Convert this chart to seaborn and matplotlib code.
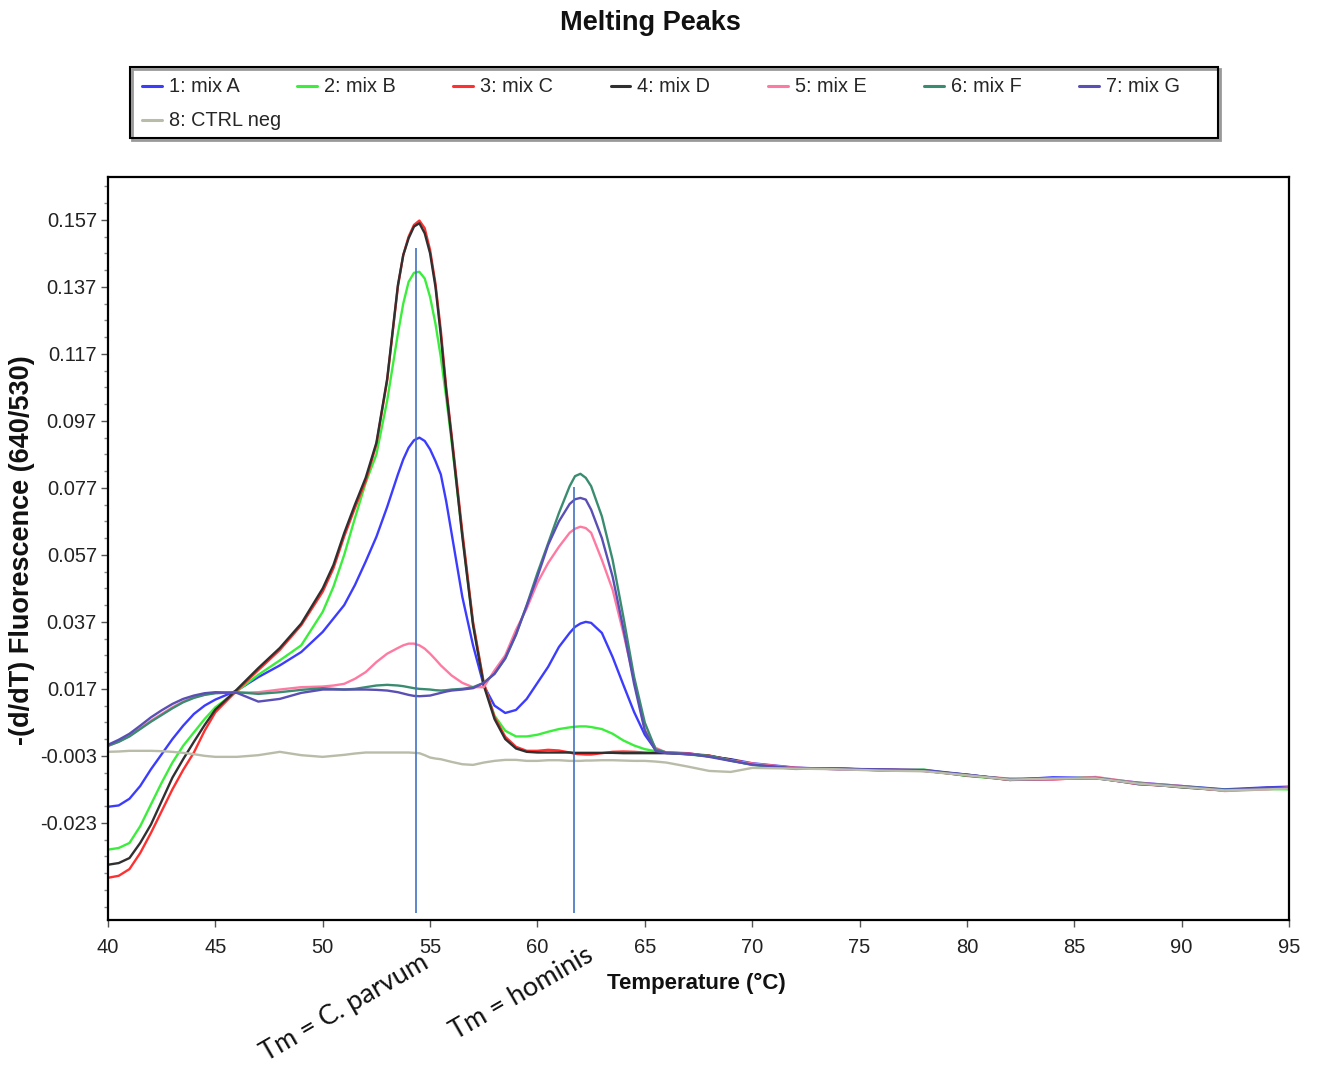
import numpy as np
import pandas as pd
import matplotlib
matplotlib.use("Agg")
import matplotlib.pyplot as plt
import seaborn as sns
from matplotlib.patches import Rectangle
from matplotlib.ticker import FixedLocator

# ---------------- data ----------------
temperature = [40, 40.5, 41, 41.5, 42, 42.5, 43, 43.5, 44, 44.5, 45, 46, 47, 48, 49, 50,
               50.5, 51, 51.5, 52, 52.5, 53, 53.5,
               53.75, 54, 54.25, 54.5, 54.75, 55, 55.25, 55.5, 55.75,
               56, 56.5, 57, 57.5, 58, 58.5, 59, 59.5, 60, 60.5, 61, 61.5,
               61.75, 62, 62.25, 62.5,
               63, 63.5, 64, 64.5, 65, 65.5, 66,
               67, 68, 69, 70, 72, 74, 76, 78, 80, 82, 84, 86, 88, 90, 92, 94, 95]

mix_a = [-0.0182, -0.0178, -0.0158, -0.0120, -0.0070, -0.0025, 0.0020, 0.0060, 0.0095, 0.0120, 0.0138,
         0.0165, 0.0205, 0.0240, 0.0280, 0.0340,
         0.0380, 0.0420, 0.0480, 0.0550, 0.0624, 0.0713, 0.0810,
         0.0855, 0.0890, 0.0912, 0.0920, 0.0910, 0.0885, 0.0850, 0.0810, 0.0730,
         0.0635, 0.0445, 0.0300, 0.0180, 0.0120, 0.0098, 0.0107, 0.0140, 0.0188, 0.0236, 0.0295, 0.0337,
         0.0355, 0.0365, 0.0370, 0.0367,
         0.0337, 0.0265, 0.0182, 0.0101, 0.0033, -0.0012, -0.0020,
         -0.0022, -0.0032, -0.0040, -0.0052, -0.0065, -0.0070, -0.0071, -0.0075, -0.0086, -0.0102, -0.0094, -0.0096, -0.0110, -0.0120, -0.0130, -0.0124, -0.0122]

mix_b = [-0.0310, -0.0305, -0.0290, -0.0240, -0.0175, -0.0110, -0.0050, 0.0000, 0.0040, 0.0080, 0.0115,
         0.0163, 0.0212, 0.0255, 0.0300, 0.0400,
         0.0475, 0.0570, 0.0680, 0.0785, 0.0870, 0.1030, 0.1230,
         0.1320, 0.1385, 0.1412, 0.1415, 0.1395, 0.1340, 0.1260, 0.1160, 0.1040,
         0.0910, 0.0630, 0.0365, 0.0185, 0.0090, 0.0045, 0.0028, 0.0028, 0.0033, 0.0042, 0.0050, 0.0055,
         0.0057, 0.0058, 0.0058, 0.0056,
         0.0050, 0.0036, 0.0016, 0.0001, -0.0010, -0.0016, -0.0020,
         -0.0026, -0.0031, -0.0044, -0.0056, -0.0068, -0.0067, -0.0074, -0.0071, -0.0090, -0.0101, -0.0099, -0.0094, -0.0113, -0.0123, -0.0133, -0.0129, -0.0130]

mix_c = [-0.0394, -0.0388, -0.0368, -0.0320, -0.0260, -0.0195, -0.0130, -0.0072, -0.0020, 0.0045, 0.0100,
         0.0165, 0.0226, 0.0286, 0.0360, 0.0460,
         0.0530, 0.0625, 0.0710, 0.0790, 0.0900, 0.1090, 0.1370,
         0.1465, 0.1520, 0.1555, 0.1568, 0.1545, 0.1480, 0.1380, 0.1240, 0.1070,
         0.0930, 0.0640, 0.0370, 0.0188, 0.0086, 0.0027, -0.0003, -0.0015, -0.0015, -0.0012, -0.0014, -0.0020,
         -0.0024, -0.0025, -0.0026, -0.0026,
         -0.0022, -0.0018, -0.0017, -0.0018, -0.0020, -0.0021, -0.0020,
         -0.0023, -0.0029, -0.0043, -0.0054, -0.0066, -0.0069, -0.0071, -0.0075, -0.0087, -0.0102, -0.0100, -0.0095, -0.0115, -0.0121, -0.0134, -0.0127, -0.0126]

mix_d = [-0.0355, -0.0350, -0.0335, -0.0290, -0.0235, -0.0165, -0.0095, -0.0040, 0.0012, 0.0062, 0.0108,
         0.0168, 0.0232, 0.0292, 0.0365, 0.0470,
         0.0540, 0.0635, 0.0720, 0.0800, 0.0905, 0.1095, 0.1375,
         0.1465, 0.1515, 0.1550, 0.1560, 0.1530, 0.1470, 0.1370, 0.1225, 0.1060,
         0.0920, 0.0625, 0.0360, 0.0180, 0.0080, 0.0020, -0.0008, -0.0018, -0.0020, -0.0020, -0.0020, -0.0020,
         -0.0021, -0.0021, -0.0021, -0.0021,
         -0.0021, -0.0021, -0.0022, -0.0022, -0.0022, -0.0022, -0.0022,
         -0.0025, -0.0030, -0.0041, -0.0055, -0.0067, -0.0068, -0.0073, -0.0074, -0.0089, -0.0099, -0.0098, -0.0097, -0.0112, -0.0124, -0.0133, -0.0126, -0.0127]

mix_e = [0.0000, 0.0012, 0.0030, 0.0052, 0.0075, 0.0095, 0.0115, 0.0132, 0.0145, 0.0153, 0.0158,
         0.0158, 0.0160, 0.0168, 0.0175, 0.0177,
         0.0180, 0.0185, 0.0200, 0.0220, 0.0250, 0.0275, 0.0292,
         0.0300, 0.0305, 0.0305, 0.0300, 0.0290, 0.0275, 0.0258, 0.0240, 0.0225,
         0.0210, 0.0188, 0.0175, 0.0175, 0.0225, 0.0270, 0.0346, 0.0410, 0.0487, 0.0546, 0.0594, 0.0636,
         0.0648, 0.0654, 0.0650, 0.0636,
         0.0555, 0.0466, 0.0337, 0.0197, 0.0048, -0.0006, -0.0020,
         -0.0024, -0.0031, -0.0043, -0.0053, -0.0066, -0.0070, -0.0070, -0.0073, -0.0088, -0.0098, -0.0101, -0.0093, -0.0111, -0.0120, -0.0135, -0.0130, -0.0124]

mix_f = [0.0000, 0.0012, 0.0028, 0.0050, 0.0072, 0.0092, 0.0112, 0.0130, 0.0143, 0.0152, 0.0157,
         0.0160, 0.0155, 0.0160, 0.0167, 0.0172,
         0.0170, 0.0168, 0.0170, 0.0175, 0.0180, 0.0182, 0.0180,
         0.0178, 0.0175, 0.0172, 0.0170, 0.0169, 0.0168, 0.0166, 0.0165, 0.0166,
         0.0168, 0.0170, 0.0175, 0.0188, 0.0215, 0.0260, 0.0331, 0.0420, 0.0516, 0.0605, 0.0695, 0.0775,
         0.0805, 0.0812, 0.0800, 0.0775,
         0.0685, 0.0555, 0.0385, 0.0206, 0.0069, -0.0010, -0.0020,
         -0.0025, -0.0030, -0.0044, -0.0057, -0.0069, -0.0067, -0.0072, -0.0073, -0.0087, -0.0100, -0.0097, -0.0096, -0.0112, -0.0121, -0.0131, -0.0128, -0.0127]

mix_g = [0.0003, 0.0018, 0.0036, 0.0060, 0.0085, 0.0106, 0.0125, 0.0140, 0.0150, 0.0157, 0.0160,
         0.0158, 0.0132, 0.0140, 0.0158, 0.0168,
         0.0168, 0.0168, 0.0168, 0.0168, 0.0167, 0.0165, 0.0160,
         0.0156, 0.0152, 0.0149, 0.0148, 0.0149, 0.0150, 0.0154, 0.0158, 0.0162,
         0.0165, 0.0168, 0.0172, 0.0188, 0.0215, 0.0262, 0.0333, 0.0418, 0.0505, 0.0600, 0.0670, 0.0722,
         0.0736, 0.0740, 0.0735, 0.0705,
         0.0620, 0.0505, 0.0350, 0.0185, 0.0045, -0.0015, -0.0022,
         -0.0024, -0.0033, -0.0045, -0.0056, -0.0067, -0.0069, -0.0070, -0.0072, -0.0086, -0.0101, -0.0099, -0.0096, -0.0114, -0.0122, -0.0132, -0.0125, -0.0126]

ctrl_neg = [-0.0018, -0.0017, -0.0015, -0.0015, -0.0015, -0.0016, -0.0018, -0.0021, -0.0025, -0.0030, -0.0033,
            -0.0033, -0.0028, -0.0018, -0.0028, -0.0033,
            -0.0030, -0.0027, -0.0023, -0.0020, -0.0020, -0.0020, -0.0020,
            -0.0020, -0.0020, -0.0021, -0.0022, -0.0028, -0.0035, -0.0038, -0.0040, -0.0044,
            -0.0048, -0.0055, -0.0057, -0.0050, -0.0045, -0.0042, -0.0042, -0.0045, -0.0045, -0.0043, -0.0043, -0.0045,
            -0.0045, -0.0045, -0.0044, -0.0044,
            -0.0043, -0.0043, -0.0044, -0.0045, -0.0045, -0.0047, -0.0050,
            -0.0062, -0.0075, -0.0078, -0.0066, -0.0068, -0.0070, -0.0074, -0.0076, -0.0088, -0.0101, -0.0098, -0.0097, -0.0113, -0.0123, -0.0133, -0.0130, -0.0128]

series_labels = ["1: mix A", "2: mix B", "3: mix C", "4: mix D",
                 "5: mix E", "6: mix F", "7: mix G", "8: CTRL neg"]
series_colors = ["#3C3CFF", "#3CEE3C", "#FF3030", "#303030",
                 "#FF7AA2", "#3A8C70", "#5A4FB5", "#B8BCA8"]

y_major_ticks = [-0.023, -0.003, 0.017, 0.037, 0.057, 0.077, 0.097, 0.117, 0.137, 0.157]
x_major_ticks = [40, 45, 50, 55, 60, 65, 70, 75, 80, 85, 90, 95]

tm_temps = [54.36, 61.68]
tm_tops = [0.1486, 0.0773]
tm_texts = ["Tm = C. parvum", "Tm = hominis"]

# ---------------- figure ----------------
sns.set_theme(style="white")
plt.rcParams['font.family'] = ['Liberation Sans', 'DejaVu Sans']

W, H = 1317, 1066
fig = plt.figure(figsize=(W / 100, H / 100), dpi=100)
fig.patch.set_facecolor("white")
ax = fig.add_axes([108 / W, 1 - 920 / H, (1289 - 108) / W, (920 - 177) / H])

all_series = [mix_a, mix_b, mix_c, mix_d, mix_e, mix_f, mix_g, ctrl_neg]
frames = []
for lab, vals in zip(series_labels, all_series):
    frames.append(pd.DataFrame({"Temperature": temperature, "Value": vals, "Series": lab}))
df = pd.concat(frames, ignore_index=True)

sns.lineplot(data=df, x="Temperature", y="Value", hue="Series",
             hue_order=series_labels, palette=dict(zip(series_labels, series_colors)),
             estimator=None, sort=False, linewidth=1.7, ax=ax, legend=True)

handles, lbls = ax.get_legend_handles_labels()
ax.get_legend().remove()

# Tm marker lines
for t, top in zip(tm_temps, tm_tops):
    ax.vlines(t, -0.0500, top, color="#4472C4", linewidth=1.2, zorder=5)

ax.set_xlim(40, 95)
ax.set_ylim(-0.052, 0.1698)
ax.set_xticks(x_major_ticks)
ax.set_xticklabels([str(v) for v in x_major_ticks])
ax.set_yticks(y_major_ticks)
ax.set_yticklabels([f"{v:.3f}" for v in y_major_ticks])
ax.yaxis.set_minor_locator(FixedLocator(np.arange(-0.048, 0.170, 0.005)))
ax.tick_params(axis="both", which="major", direction="out", length=5, width=1,
               color="#555555", labelsize=14.5, pad=3, labelcolor="#222222")
ax.tick_params(axis="x", which="major", pad=8)
ax.tick_params(axis="y", which="minor", direction="out", length=3, width=1, color="#888888")
ax.tick_params(bottom=True, left=True)
ax.tick_params(axis="y", which="minor", left=True)
ax.set_xlabel("")
ax.set_ylabel("")
for sp in ax.spines.values():
    sp.set_color("black")
    sp.set_linewidth(1.6)

# labels / title
fig.text(650 / W, 1 - 23 / H, "Melting Peaks", ha="center", va="center",
         fontsize=19.5, fontweight="bold", color="#111111")
fig.text(696 / W, 1 - 983 / H, "Temperature (°C)", ha="center", va="center",
         fontsize=16, fontweight="bold", color="#111111")
fig.text(22 / W, 1 - 550 / H, "-(d/dT) Fluorescence (640/530)", ha="center", va="center",
         rotation=90, fontsize=19.5, fontweight="bold", color="#111111")

# Tm annotations
tm_text_pos = [(345, 1008), (522, 993)]
for (px, py), txt in zip(tm_text_pos, tm_texts):
    fig.text(px / W, 1 - py / H, txt, ha="center", va="center", rotation=30,
             rotation_mode="anchor", fontsize=19.5, family=["Lato", "DejaVu Sans"],
             color="#111111")

# legend
leg1 = fig.legend(handles[:7], lbls[:7], ncol=7, loc="center left",
                  bbox_to_anchor=(142 / W, 1 - 87 / H), frameon=False,
                  handlelength=1.0, handletextpad=0.35, columnspacing=2.9,
                  fontsize=14.3, borderpad=0, borderaxespad=0)
leg2 = fig.legend(handles[7:], lbls[7:], ncol=1, loc="center left",
                  bbox_to_anchor=(142 / W, 1 - 121 / H), frameon=False,
                  handlelength=1.0, handletextpad=0.35,
                  fontsize=14.3, borderpad=0, borderaxespad=0)
for leg in (leg1, leg2):
    for line in leg.get_lines():
        line.set_linewidth(2.2)

fig.patches.append(Rectangle((132 / W, 1 - 140 / H), (1220 - 132) / W, 71 / H,
                             transform=fig.transFigure, fill=False,
                             edgecolor="#999999", linewidth=2))
fig.patches.append(Rectangle((130 / W, 1 - 138 / H), (1218 - 130) / W, 71 / H,
                             transform=fig.transFigure, fill=False,
                             edgecolor="black", linewidth=1.5))

fig.savefig("out.png", dpi=100, facecolor="white")
